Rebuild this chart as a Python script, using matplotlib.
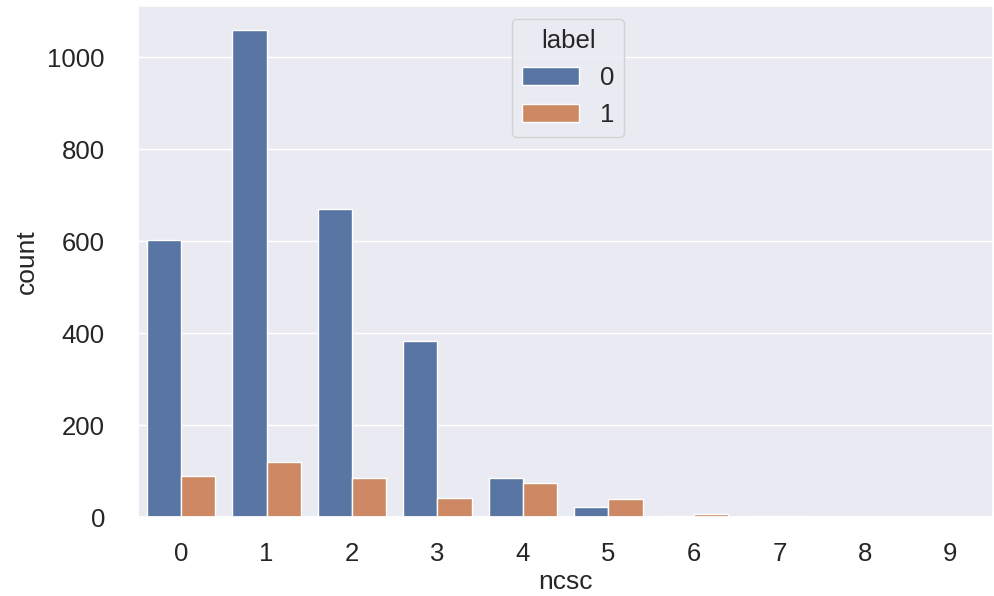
import matplotlib
matplotlib.use("Agg")
import matplotlib.pyplot as plt
import seaborn as sns
import pandas as pd

sns.set_theme(style="darkgrid")
plt.rcParams['font.family'] = ['Liberation Sans', 'DejaVu Sans']

ncsc = [0, 1, 2, 3, 4, 5, 6, 7, 8, 9]
count_label0 = [602, 1059, 670, 383, 85, 22, 2, 2, 1, 1]
count_label1 = [89, 120, 85, 41, 74, 39, 8, 3, 0, 0]

df = pd.DataFrame({
    "ncsc": ncsc * 2,
    "label": ["0"] * len(ncsc) + ["1"] * len(ncsc),
    "count": count_label0 + count_label1,
})

fig, ax = plt.subplots(figsize=(9.95, 5.96), dpi=100)
sns.barplot(data=df, x="ncsc", y="count", hue="label", ax=ax,
            palette=["#4c72b0", "#dd8452"], saturation=0.75)
ax.set_xlabel("ncsc", fontsize=19, labelpad=3)
ax.set_ylabel("count", fontsize=19, labelpad=6)
ax.tick_params(axis="x", labelsize=18.5, pad=12)
ax.tick_params(axis="y", labelsize=18.5, pad=18)
leg = ax.legend(title="label", loc="upper center", fontsize=18.5,
                title_fontsize=18.5, handlelength=2.2,
                bbox_to_anchor=(0.503, 1.0))
fig.subplots_adjust(left=0.139, right=0.998, top=0.99, bottom=0.132)
fig.savefig("out.png", dpi=100)
